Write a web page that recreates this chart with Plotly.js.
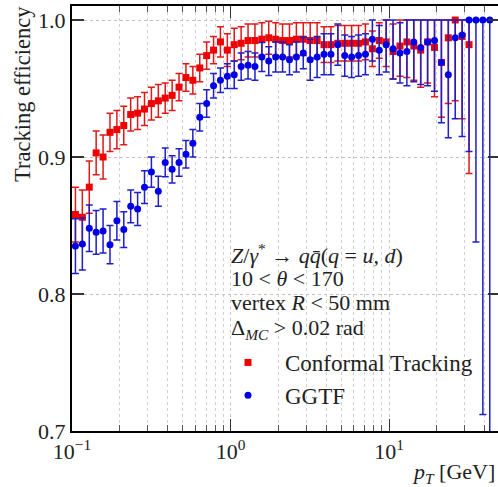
<!DOCTYPE html>
<html><head><meta charset="utf-8">
<script src="https://cdn.plot.ly/plotly-3.0.1.min.js"></script>
<style>html,body{margin:0;padding:0;overflow:hidden;background:#fff}#chart{width:500px;height:487px}</style>
</head><body><div id="chart"></div>
<script>
// bin centres in pT [GeV]
const pT = [0.1051,0.1162,0.1285,0.1420,0.1570,0.1736,0.1919,0.2121,0.2345,0.2593,0.2866,0.3168,0.3502,0.3872,0.4280,0.4731,0.5230,0.5782,0.6392,0.7066,0.7811,0.8630,0.9539,1.0546,1.1658,1.2888,1.4247,1.5749,1.7410,1.9247,2.1276,2.3520,2.6001,2.8743,3.1775,3.5127,3.8832,4.2928,4.7456,5.2461,5.7995,6.4112,7.0874,7.8350,8.6614,9.5749,10.585,11.701,12.936,14.300,15.808,17.475,19.319,21.356,23.609,26.099,28.852,31.895,35.259,38.978,43.089];

// Conformal Tracking
const effCT = [0.858,0.856,0.878,0.903,0.900,0.918,0.920,0.923,0.931,0.932,0.935,0.939,0.941,0.943,0.945,0.951,0.958,0.956,0.965,0.974,0.978,0.984,0.978,0.982,0.983,0.985,0.985,0.986,0.987,0.986,0.985,0.985,0.986,0.986,0.985,0.985,0.982,0.982,0.983,0.983,0.983,0.983,0.984,0.979,0.985,0.984,0.977,0.981,0.984,0.981,0.978,0.984,0.980,0.969,0.987,1.000,0.988,0.982,null,null,null];
const errCT = [0.020,0.020,0.019,0.016,0.016,0.014,0.014,0.014,0.012,0.012,0.012,0.012,0.012,0.011,0.011,0.010,0.010,0.010,0.010,0.010,0.010,0.011,0.012,0.012,0.012,0.012,0.012,0.012,0.012,0.012,0.012,0.012,0.012,0.012,0.013,0.013,0.013,0.013,0.013,0.013,0.013,0.013,0.013,0.013,0.013,0.018,0.020,0.022,0.026,0.025,0.027,0.030,0.036,0.040,0.048,0.059,0.060,0.094,null,null,null];

// GGTF
const effGG = [0.835,0.8365,0.848,0.845,0.846,0.836,0.8535,0.847,0.864,0.862,0.878,0.889,0.875,0.896,0.891,0.896,0.902,0.910,0.929,0.939,0.952,0.956,0.959,0.960,0.966,0.967,0.966,0.973,0.970,0.973,0.973,0.971,0.973,0.976,0.971,0.973,0.975,0.975,0.982,0.974,0.973,0.974,0.975,0.986,0.978,0.982,0.979,0.976,0.977,0.984,0.980,0.984,0.985,0.969,0.960,0.987,0.989,1.000,1.000,1.000,1.000];
const errGG = [0.020,0.019,0.017,0.016,0.016,0.014,0.014,0.013,0.012,0.012,0.012,0.011,0.011,0.0105,0.010,0.010,0.010,0.010,0.010,0.010,0.009,0.009,0.009,0.010,0.010,0.010,0.010,0.0105,0.0105,0.011,0.011,0.011,0.011,0.0115,0.015,0.015,0.015,0.015,0.015,0.015,0.015,0.015,0.015,0.016,0.018,0.020,0.022,0.022,0.025,0.029,0.027,0.032,0.037,0.044,0.046,0.059,0.074,0.096,0.162,0.288,0.400];

const seriesNames = ['Conformal Tracking', 'GGTF'];
const xTickVals = [0.1, 1, 10];
const xTickText = ['10<sup>−1</sup>', '10<sup>0</sup>', '10<sup>1</sup>'];
const xMinorVals = [0.2,0.3,0.4,0.5,0.6,0.7,0.8,0.9,2,3,4,5,6,7,8,9,20,30,40];
const yTickVals = [0.7, 0.8, 0.9, 1.0];
const yTickText = ['0.7', '0.8', '0.9', '1.0'];
const infoLines = [
  '<i>Z</i>/<i>γ</i><sup>*</sup> → <i>q</i><i>q̄</i>(<i>q</i> = <i>u</i>, <i>d</i>)',
  '10 < <i>θ</i> < 170',
  'vertex <i>R</i> < 50 mm',
  'Δ<sub><i>MC</i></sub> > 0.02 rad'
];
const infoCentres = [254, 278, 302, 329];

// clip upper error at efficiency 1
const upper = (eff, err) => eff.map((v, i) => (v === null || err[i] === null) ? null : Math.min(err[i], 1 - v));

const W = 500, H = 487, ML = 72, MR = 0, MT = 6, MB = 56;
const PW = W - ML - MR, PH = H - MT - MB;
const px = x => (x - ML) / PW;
const py = y => (H - MB - y) / PH;
const FONT = 'Liberation Serif, Times New Roman, serif';
const TXT = '#222';

const traces = [
  {
    x: pT, y: effCT, name: seriesNames[0], type: 'scatter', mode: 'markers',
    legendgroup: 'a',
    marker: {symbol: 'square', size: 7, color: '#f00000'},
    error_y: {type: 'data', symmetric: false, array: upper(effCT, errCT), arrayminus: errCT,
              color: '#e01818', thickness: 1.5, width: 3.5}
  },
  {
    x: pT, y: effGG, name: seriesNames[1], type: 'scatter', mode: 'markers',
    legendgroup: 'b',
    marker: {symbol: 'circle', size: 7, color: '#0000e6'},
    error_y: {type: 'data', symmetric: false, array: upper(effGG, errGG), arrayminus: errGG,
              color: '#1f1fc8', thickness: 1.5, width: 3.5}
  }
];

const annotations = infoLines.map((t, i) => ({
  text: t, xref: 'paper', yref: 'paper', x: px(229), y: py(infoCentres[i]),
  xanchor: 'left', yanchor: 'middle', showarrow: false, align: 'left',
  font: {family: FONT, size: 22, color: TXT}
}));
annotations.push({
  text: 'Tracking efficiency', textangle: -90, xref: 'paper', yref: 'paper',
  x: px(23), y: py(94), xanchor: 'center', yanchor: 'middle', showarrow: false,
  font: {family: FONT, size: 22.5, color: TXT}
});
annotations.push({
  text: '<i>p</i><sub><i>T</i></sub> [GeV]', xref: 'paper', yref: 'paper',
  x: px(497), y: py(473), xanchor: 'right', yanchor: 'middle', showarrow: false,
  font: {family: FONT, size: 22, color: TXT}
});

const layout = {
  width: W, height: H,
  margin: {l: ML, r: MR, t: MT, b: MB},
  paper_bgcolor: '#fff', plot_bgcolor: '#fff',
  font: {family: FONT, size: 21, color: TXT},
  showlegend: true,
  legend: {
    x: px(211), y: py(341), xanchor: 'left', yanchor: 'top',
    bgcolor: 'rgba(0,0,0,0)', borderwidth: 0, itemwidth: 64,
    traceorder: 'grouped', tracegroupgap: 0,
    font: {family: FONT, size: 23, color: TXT}
  },
  xaxis: {
    type: 'log', range: [-1, Math.log10(50)], autorange: false,
    tickmode: 'array', tickvals: xTickVals, ticktext: xTickText,
    ticks: 'inside', ticklen: 12, tickwidth: 1.3, tickcolor: '#333',
    showline: true, linecolor: '#000', linewidth: 2, mirror: 'ticks',
    showgrid: true, gridcolor: '#c8c8c8', griddash: 'dot', gridwidth: 1,
    zeroline: false,
    tickfont: {family: FONT, size: 22, color: TXT},
    minor: {tickmode: 'array', tickvals: xMinorVals, ticks: 'inside', ticklen: 6,
            tickwidth: 1, tickcolor: '#555', showgrid: true, gridcolor: '#d0d0d0',
            griddash: 'dot', gridwidth: 1}
  },
  yaxis: {
    range: [0.7, 0.7 + PH / 1370], autorange: false,
    tickmode: 'array', tickvals: yTickVals, ticktext: yTickText,
    ticks: 'inside', ticklen: 12, tickwidth: 1.3, tickcolor: '#333',
    showline: true, linecolor: '#000', linewidth: 2, mirror: 'ticks',
    showgrid: true, gridcolor: '#c0c0c0', griddash: 'dot', gridwidth: 1,
    zeroline: false,
    tickfont: {family: FONT, size: 22, color: TXT}
  },
  annotations: annotations
};

Plotly.newPlot('chart', traces, layout, {displayModeBar: false, staticPlot: true});
</script></body></html>
